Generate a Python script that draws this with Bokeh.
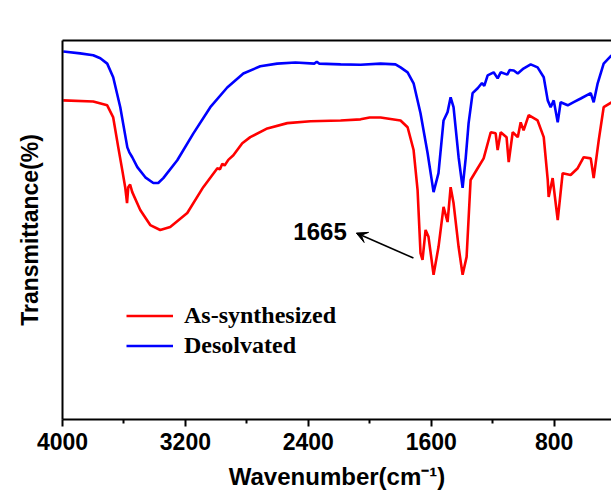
from bokeh.plotting import figure
from bokeh.models import (Range1d, FixedTicker, LinearAxis, Legend, LegendItem,
                          Arrow, VeeHead)
from bokeh.core.properties import value
from bokeh.embed import file_html
from bokeh.resources import INLINE

# ---- data ----
wn_desolvated = [3995, 3885, 3800, 3754, 3709, 3670, 3624, 3578, 3565, 3546, 3513, 3461,
                 3409, 3377, 3344, 3253, 3148, 3038, 2928, 2823, 2713, 2603, 2484, 2360,
                 2345, 2330, 2190, 2060, 1930, 1833, 1800, 1754, 1715, 1670, 1624, 1585,
                 1553, 1520, 1494, 1474, 1455, 1422, 1396, 1376, 1357, 1331, 1298, 1270,
                 1255, 1233, 1194, 1168, 1148, 1105, 1090, 1063, 1037, 1000, 953, 908,
                 868, 842, 823, 803, 777, 758, 712, 670, 627, 562, 543, 517, 478, 427]
t_desolvated = [97.1, 96.6, 96.1, 95.3, 93.9, 90.3, 82.4, 71.8, 70.5, 69.2, 66.6, 63.9,
                62.4, 62.4, 63.7, 68.4, 75.5, 82.4, 87.6, 91.3, 93.2, 93.9, 94.2, 93.9,
                94.4, 93.9, 93.7, 93.6, 93.9, 93.7, 92.9, 91.6, 88.7, 80.8, 70.3, 60.0,
                65.0, 78.9, 81.1, 85.0, 82.4, 69.2, 61.1, 68.9, 78.2, 86.1, 87.4, 88.8,
                88.0, 90.8, 91.6, 90.0, 91.6, 91.0, 92.2, 92.1, 91.3, 92.6, 93.7, 92.9,
                90.3, 84.2, 82.4, 84.2, 78.4, 83.7, 82.9, 83.8, 84.7, 86.1, 83.7, 88.7,
                93.9, 96.1]

wn_as_synth = [3995, 3800, 3709, 3670, 3637, 3611, 3592, 3580, 3572, 3560, 3546, 3494,
               3429, 3364, 3299, 3188, 3084, 2992, 2975, 2960, 2945, 2921, 2888, 2830,
               2778, 2667, 2537, 2386, 2190, 2060, 2001, 1930, 1800, 1754, 1715, 1689,
               1670, 1657, 1637, 1618, 1585, 1553, 1520, 1494, 1474, 1455, 1422, 1396,
               1370, 1344, 1298, 1259, 1213, 1181, 1168, 1148, 1110, 1096, 1070, 1037,
               1018, 999, 966, 908, 868, 842, 836, 810, 777, 745, 693, 647, 608, 562,
               543, 510, 478, 427]
t_as_synth = [84.2, 83.9, 82.9, 79.7, 71.8, 65.8, 61.3, 57.1, 61.3, 62.0, 60.0, 55.3,
              51.3, 50.0, 50.8, 54.5, 61.3, 66.3, 66.0, 67.5, 67.0, 68.5, 69.7, 72.9,
              74.5, 76.8, 78.2, 78.7, 78.9, 79.2, 79.7, 79.7, 78.9, 77.1, 71.1, 60.5,
              43.9, 42.1, 50.0, 48.2, 38.2, 45.5, 56.1, 52.1, 61.3, 57.1, 45.5, 38.2,
              42.9, 63.2, 66.3, 68.9, 75.8, 75.5, 71.1, 75.8, 74.5, 67.9, 75.8, 74.5,
              78.4, 76.3, 80.3, 78.9, 74.5, 63.2, 58.7, 63.7, 52.6, 65.0, 64.5, 66.3,
              69.2, 68.9, 63.7, 73.7, 82.4, 83.7]

series_names = ["As-synthesized", "Desolvated"]
series_colors = ["#FF0000", "#0000FF"]

major_ticks = [4000, 3200, 2400, 1600, 800]
minor_ticks = [3600, 2800, 2000, 1200, 400]

ann_text = ["1665"]
ann_text_x = [2150]
ann_text_y = [49.5]
arrow_tail = (1716, 42.6)
arrow_head = (2088, 49.2)

# ---- figure ----
p = figure(width=611, height=492, x_range=Range1d(4000, 427), y_range=Range1d(0, 100),
           output_backend="svg", toolbar_location=None,
           min_border_left=62, min_border_right=0, min_border_top=40, min_border_bottom=72)
p.outline_line_color = None
p.grid.visible = False
p.background_fill_color = "white"
p.border_fill_color = "white"

r_red = p.line(wn_as_synth, t_as_synth, line_color=series_colors[0], line_width=2.6)
r_blue = p.line(wn_desolvated, t_desolvated, line_color=series_colors[1], line_width=2.6)

# x axis
xa = p.xaxis[0]
xa.ticker = FixedTicker(ticks=major_ticks, minor_ticks=minor_ticks)
xa.axis_line_width = 2
xa.major_tick_line_width = 2
xa.minor_tick_line_width = 2
xa.major_tick_out = 7
xa.major_tick_in = 0
xa.minor_tick_out = 4
xa.minor_tick_in = 0
xa.major_label_standoff = 6
xa.major_label_text_font = "Liberation Sans"
xa.major_label_text_font_style = "bold"
xa.major_label_text_font_size = "23px"
xa.major_label_text_color = "black"
xa.axis_label = "Wavenumber(cm\u207B\u00B9)"
xa.axis_label_text_font = "Liberation Sans"
xa.axis_label_text_font_style = "bold"
xa.axis_label_text_font_size = "24px"
xa.axis_label_text_color = "black"
xa.axis_label_standoff = 10

# y axis
ya = p.yaxis[0]
ya.ticker = FixedTicker(ticks=[])
ya.axis_line_width = 2
ya.major_tick_line_color = None
ya.minor_tick_line_color = None
ya.major_tick_out = 0
ya.major_label_standoff = 0
ya.major_label_text_font_size = "0px"
ya.axis_label = "Transmittance(%)"
ya.axis_label_text_font = "Liberation Sans"
ya.axis_label_text_font_style = "bold"
ya.axis_label_text_font_size = "23px"
ya.axis_label_text_color = "black"
ya.axis_label_standoff = 20

# top border line
top = LinearAxis(ticker=FixedTicker(ticks=[]), axis_line_width=2,
                 major_tick_line_color=None, minor_tick_line_color=None,
                 major_tick_out=0, major_label_standoff=0,
                 major_label_text_font_size="0px")
p.add_layout(top, "above")

# annotation
p.text(x=ann_text_x, y=ann_text_y, text=ann_text, text_font=value("Liberation Sans"),
       text_font_style="bold", text_font_size="24px", text_align="right",
       text_baseline="middle", text_color="black")
p.add_layout(Arrow(x_start=arrow_tail[0], y_start=arrow_tail[1],
                   x_end=arrow_head[0], y_end=arrow_head[1],
                   line_width=1.6, line_color="black",
                   end=VeeHead(size=11, line_color="black", fill_color="black", line_width=1)))

# legend
legend = Legend(items=[LegendItem(label=series_names[0], renderers=[r_red]),
                       LegendItem(label=series_names[1], renderers=[r_blue])],
                location=(64, 59), orientation="vertical")
legend.border_line_color = None
legend.background_fill_alpha = 0
legend.padding = 0
legend.margin = 0
legend.spacing = 1
legend.glyph_width = 47
legend.glyph_height = 29
legend.label_height = 29
legend.label_standoff = 11
legend.label_text_font = "Liberation Serif"
legend.label_text_font_style = "bold"
legend.label_text_font_size = "24px"
legend.label_text_color = "black"
p.add_layout(legend, "center")

open("out.html", "w").write(file_html(p, INLINE))
